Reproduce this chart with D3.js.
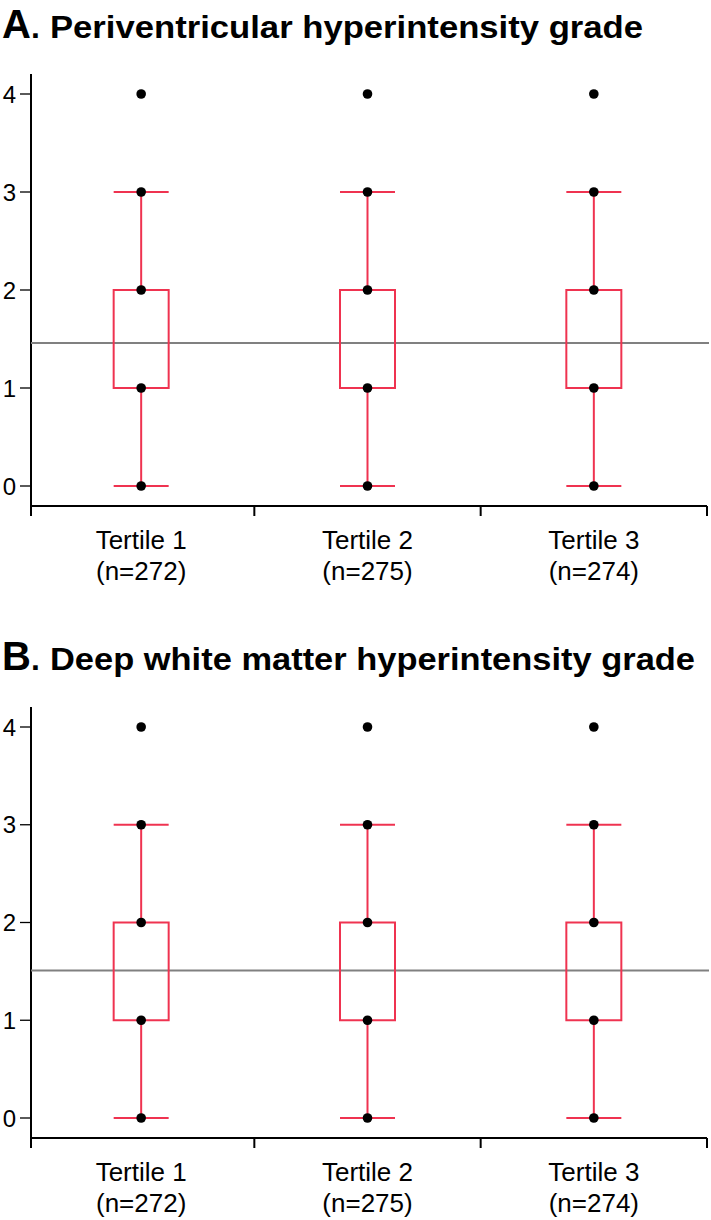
<!DOCTYPE html>
<html><head><meta charset="utf-8">
<script src="https://cdn.jsdelivr.net/npm/d3@7"></script>
<style>body{margin:0;background:#fff}svg{display:block}</style>
</head><body>
<svg id="c" width="711" height="1220"></svg>
<script>
const categories = ["Tertile 1", "Tertile 2", "Tertile 3"];
const counts = ["(n=272)", "(n=275)", "(n=274)"];
const yTicks = [0, 1, 2, 3, 4];
const panelLetters = ["A", "B"];
const panelTitles = ["Periventricular hyperintensity grade", "Deep white matter hyperintensity grade"];
// box stats per tertile: [whiskerLow, q1, q3, whiskerHigh]
const boxStatsA = [[0, 1, 2, 3], [0, 1, 2, 3], [0, 1, 2, 3]];
const boxStatsB = [[0, 1, 2, 3], [0, 1, 2, 3], [0, 1, 2, 3]];
// distinct observed values shown as dots
const dotsA = [[0, 1, 2, 3, 4], [0, 1, 2, 3, 4], [0, 1, 2, 3, 4]];
const dotsB = [[0, 1, 2, 3, 4], [0, 1, 2, 3, 4], [0, 1, 2, 3, 4]];
const overallMeans = [1.46, 1.51];

const svg = d3.select("#c");
const RED = "#ef3350";
const FONT = "Liberation Sans, Arial, sans-serif";
const panels = [
  {letter: panelLetters[0], title: panelTitles[0], stats: boxStatsA, dots: dotsA, mean: overallMeans[0], off: 0, yr: [486, 94], tl: 593},
  {letter: panelLetters[1], title: panelTitles[1], stats: boxStatsB, dots: dotsB, mean: overallMeans[1], off: 632, yr: [1118, 727], tl: 645}
];
const x = d3.scaleBand().domain(categories).range([28, 707]).padding(0);
const boxW = 55;

panels.forEach(p => {
  const g = svg.append("g");
  const y = d3.scaleLinear().domain([0, 4]).range(p.yr);
  g.append("text").attr("x", 2).attr("y", 38 + p.off)
    .attr("font-family", FONT).attr("font-weight", "bold").attr("font-size", 40).text(p.letter);
  g.append("text").attr("x", 31).attr("y", 38 + p.off)
    .attr("font-family", FONT).attr("font-weight", "bold").attr("font-size", 32).text(".");
  g.append("text").attr("x", 50).attr("y", 38 + p.off)
    .attr("font-family", FONT).attr("font-weight", "bold").attr("font-size", 32)
    .attr("textLength", p.tl).attr("lengthAdjust", "spacingAndGlyphs").text(p.title);

  const axisY = p.yr[1] - 20, xAxisY = p.yr[0] + 20;
  // y axis
  g.append("line").attr("x1", 31).attr("x2", 31).attr("y1", axisY).attr("y2", xAxisY + 10)
    .attr("stroke", "#000").attr("stroke-width", 2);
  g.selectAll(".yt").data(yTicks).enter().append("line")
    .attr("x1", 20).attr("x2", 31).attr("y1", d => y(d)).attr("y2", d => y(d))
    .attr("stroke", "#000").attr("stroke-width", 1.3);
  g.selectAll(".yl").data(yTicks).enter().append("text")
    .attr("x", 16).attr("y", d => y(d) + 8.5).attr("text-anchor", "end")
    .attr("font-family", FONT).attr("font-size", 24).text(d => d);
  // x axis
  g.append("line").attr("x1", 31).attr("x2", 707).attr("y1", xAxisY).attr("y2", xAxisY)
    .attr("stroke", "#000").attr("stroke-width", 2);
  const bounds = categories.map(c => x(c) + x.bandwidth());
  g.selectAll(".xt").data(bounds).enter().append("line")
    .attr("x1", d => Math.min(d, 707)).attr("x2", d => Math.min(d, 707))
    .attr("y1", xAxisY).attr("y2", xAxisY + 10).attr("stroke", "#000").attr("stroke-width", 2);
  g.selectAll(".xl").data(categories).enter().append("text")
    .attr("x", d => x(d) + x.bandwidth() / 2).attr("y", xAxisY + 43).attr("text-anchor", "middle")
    .attr("font-family", FONT).attr("font-size", 26).text(d => d);
  g.selectAll(".xn").data(counts).enter().append("text")
    .attr("x", (d, i) => x(categories[i]) + x.bandwidth() / 2).attr("y", xAxisY + 74).attr("text-anchor", "middle")
    .attr("font-family", FONT).attr("font-size", 26).text(d => d);

  // mean line
  g.append("line").attr("x1", 31).attr("x2", 709).attr("y1", y(p.mean)).attr("y2", y(p.mean))
    .attr("stroke", "#808080").attr("stroke-width", 2);

  categories.forEach((c, i) => {
    const cx = x(c) + x.bandwidth() / 2;
    const [lo, q1, q3, hi] = p.stats[i];
    const ln = (x1, x2, y1, y2) => g.append("line").attr("x1", x1).attr("x2", x2).attr("y1", y1).attr("y2", y2)
      .attr("stroke", RED).attr("stroke-width", 2);
    ln(cx, cx, y(hi), y(q3));
    ln(cx, cx, y(q1), y(lo));
    ln(cx - boxW / 2, cx + boxW / 2, y(hi), y(hi));
    ln(cx - boxW / 2, cx + boxW / 2, y(lo), y(lo));
    g.append("rect").attr("x", cx - boxW / 2).attr("y", y(q3)).attr("width", boxW).attr("height", y(q1) - y(q3))
      .attr("stroke", RED).attr("stroke-width", 2).attr("fill", "none");
    g.selectAll(null).data(p.dots[i]).enter().append("circle")
      .attr("cx", cx).attr("cy", d => y(d)).attr("r", 4.8).attr("fill", "#000");
  });
});
</script>
</body></html>
